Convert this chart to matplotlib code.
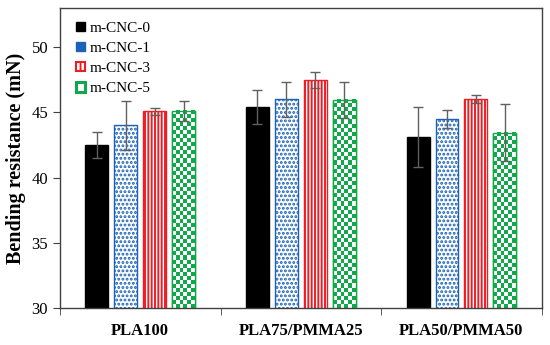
import numpy as np
import matplotlib
matplotlib.use("Agg")
import matplotlib.pyplot as plt
from matplotlib.patches import Patch
from matplotlib.colors import ListedColormap
from matplotlib.ticker import MultipleLocator, FixedLocator

plt.rcParams['font.family'] = ['Liberation Serif', 'DejaVu Serif']
plt.rcParams['hatch.linewidth'] = 1.4

# data
groups = ['PLA100', 'PLA75/PMMA25', 'PLA50/PMMA50']
series = ['m-CNC-0', 'm-CNC-1', 'm-CNC-3', 'm-CNC-5']
means = {
    'm-CNC-0': [42.5, 45.4, 43.1],
    'm-CNC-1': [44.0, 46.0, 44.5],
    'm-CNC-3': [45.1, 47.5, 46.0],
    'm-CNC-5': [45.1, 45.95, 43.45],
}
errs = {
    'm-CNC-0': [1.0, 1.3, 2.3],
    'm-CNC-1': [1.9, 1.35, 0.7],
    'm-CNC-3': [0.27, 0.6, 0.3],
    'm-CNC-5': [0.8, 1.35, 2.2],
}

blue = '#1a62b8'
red = '#ee1c24'
green = '#10a84a'
styles = {
    'm-CNC-0': dict(facecolor='black', edgecolor='black', hatch=None),
    'm-CNC-1': dict(facecolor='white', edgecolor=blue, hatch='....'),
    'm-CNC-3': dict(facecolor='white', edgecolor=red, hatch='|||||'),
    'm-CNC-5': dict(facecolor='white', edgecolor=green, hatch=None),
}

fig = plt.figure(figsize=(5.5, 3.45), dpi=100)
ax = fig.add_axes([0.109, 0.107, 0.876, 0.870])
ax.set_xlim(-0.5, 2.5)
ax.set_ylim(30, 53)

x = np.arange(len(groups))
step = 0.18
width = 0.143
offsets = [-1.5 * step, -0.5 * step, 0.5 * step, 1.5 * step]

for s, off in zip(series, offsets):
    st = styles[s]
    bars = ax.bar(x + off, means[s], width, label=s,
                  facecolor=st['facecolor'], edgecolor=st['edgecolor'],
                  hatch=st['hatch'], linewidth=1.0, zorder=2)
    ax.errorbar(x + off, means[s], yerr=errs[s], fmt='none', ecolor='#606060',
                elinewidth=1.0, capsize=3.5, capthick=1.0, zorder=4)
    if s == 'm-CNC-5':
        # checkerboard fill for each bar
        for b in bars:
            x0, w, h = b.get_x(), b.get_width(), b.get_height()
            ncol = 6
            nrow = int(round((h - 30) / 0.31))
            board = np.add.outer(np.arange(nrow), np.arange(ncol)) % 2
            ax.imshow(board, cmap=ListedColormap(['white', green]), aspect='auto',
                      interpolation='nearest', extent=(x0, x0 + w, 30, h),
                      origin='upper', zorder=2.5)
            ax.bar(x0 + w / 2, h, w, facecolor='none', edgecolor=green,
                   linewidth=1.0, zorder=3)

ax.set_xlim(-0.5, 2.5)
ax.set_ylim(30, 53)
ax.yaxis.set_major_locator(MultipleLocator(5))
ax.set_xticks(x)
ax.set_xticklabels(groups, fontweight='bold', fontsize=12)
ax.xaxis.set_minor_locator(FixedLocator([-0.5, 0.5, 1.5, 2.5]))
ax.tick_params(axis='x', which='major', length=0, pad=11)
ax.tick_params(axis='x', which='minor', length=5, direction='out', color='#404040')
ax.tick_params(axis='y', length=5, direction='out', color='#404040', labelsize=12)
ax.set_ylabel('Bending resistance (mN)', fontweight='bold', fontsize=14.5)

for sp in ax.spines.values():
    sp.set_color('#404040')
    sp.set_linewidth(1.0)

handles = [
    Patch(facecolor='black', edgecolor='black'),
    Patch(facecolor=blue, edgecolor=blue, hatch='..'),
    Patch(facecolor='white', edgecolor=red, hatch='|||', linewidth=1.5),
    Patch(facecolor='white', edgecolor=green, linewidth=2.2),
]
ax.legend(handles, series, loc='upper left', frameon=False, fontsize=11,
          handlelength=0.6, handleheight=0.6, handletextpad=0.3,
          labelspacing=0.45, borderaxespad=0.0, bbox_to_anchor=(0.02, 0.975))

fig.savefig('out.png', dpi=100)
